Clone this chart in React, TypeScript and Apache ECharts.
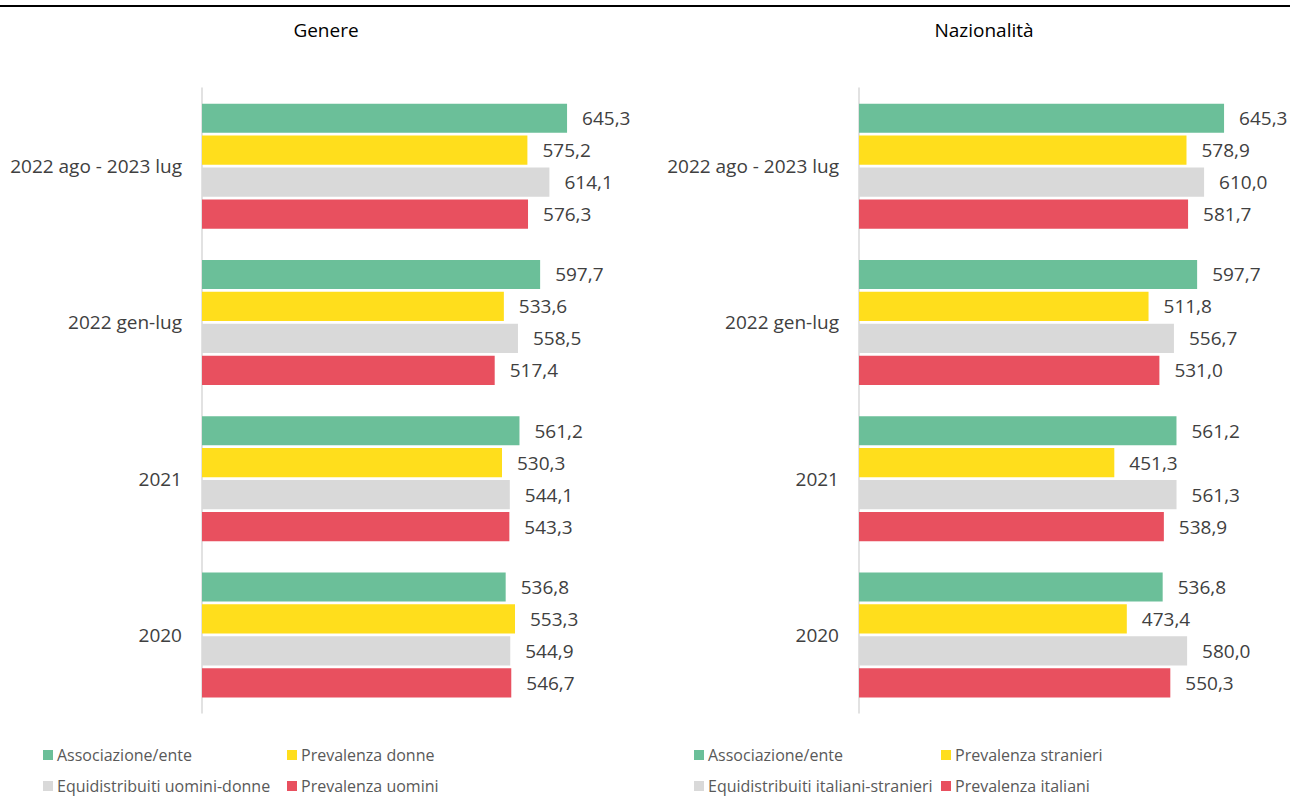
import React, { useEffect, useRef } from "react";
import * as echarts from "echarts";

const categories = ["2022 ago - 2023 lug", "2022 gen-lug", "2021", "2020"];

const genereNames = ["Associazione/ente", "Prevalenza donne", "Equidistribuiti uomini-donne", "Prevalenza uomini"];
const genereAssociazione = [645.3, 597.7, 561.2, 536.8];
const genereDonne = [575.2, 533.6, 530.3, 553.3];
const genereEqui = [614.1, 558.5, 544.1, 544.9];
const genereUomini = [576.3, 517.4, 543.3, 546.7];

const nazNames = ["Associazione/ente", "Prevalenza stranieri", "Equidistribuiti italiani-stranieri", "Prevalenza italiani"];
const nazAssociazione = [645.3, 597.7, 561.2, 536.8];
const nazStranieri = [578.9, 511.8, 451.3, 473.4];
const nazEqui = [610.0, 556.7, 561.3, 580.0];
const nazItaliani = [581.7, 531.0, 538.9, 550.3];

const colors = ["#6BBF99", "#FFDE1C", "#D9D9D9", "#E8505F"];
const FONT = "Open Sans";

export default function App() {
  const ref = useRef<HTMLDivElement>(null);
  useEffect(() => {
    if (!ref.current) return;
    const chart = echarts.init(ref.current, null, { renderer: "svg" });
    const fmt = (p: any) => Number(p.value).toFixed(1).replace(".", ",");
    const mkSeries = (names: string[], data: number[][], idx: number) =>
      names.map((n, i) => ({
        name: n,
        type: "bar",
        xAxisIndex: idx,
        yAxisIndex: idx,
        data: data[i],
        itemStyle: { color: colors[i] },
        barGap: "10%",
        barCategoryGap: "20%",
        label: {
          show: true,
          position: "right",
          distance: 15,
          formatter: fmt,
          color: "#404040",
          fontSize: 19,
          fontFamily: FONT,
        },
      }));
    const gridTop = 88;
    const gridH = 625;
    const legendItem = (name: string, left: number, top: number) => ({
      data: [name],
      left,
      top,
      padding: 0,
      orient: "horizontal",
      icon: "rect",
      itemWidth: 10,
      itemHeight: 10,
      itemGap: 0,
      selectedMode: false,
      textStyle: { color: "#595959", fontSize: 16, fontFamily: FONT, lineHeight: 22, padding: [0, 0, 0, -1] },
    });
    const yAx = (gi: number) => ({
      type: "category",
      gridIndex: gi,
      data: categories,
      inverse: true,
      axisLine: { show: true, lineStyle: { color: "#D9D9D9", width: 1.5 } },
      axisTick: { show: false },
      axisLabel: { color: "#404040", fontSize: 19, fontFamily: FONT, margin: 20 },
    });
    const xAx = (gi: number) => ({
      type: "value",
      gridIndex: gi,
      min: 0,
      max: 700,
      show: false,
      splitLine: { show: false },
    });
    const row1 = 744;
    const row2 = 775;
    chart.setOption({
      animation: false,
      backgroundColor: "#ffffff",
      grid: [
        { left: 202, top: gridTop, width: 396, height: gridH, containLabel: false },
        { left: 859, top: gridTop, width: 396, height: gridH, containLabel: false },
      ],
      xAxis: [xAx(0), xAx(1)],
      yAxis: [yAx(0), yAx(1)],
      legend: [
        legendItem(genereNames[0], 43, row1),
        legendItem(genereNames[1], 287, row1),
        legendItem(genereNames[2], 43, row2),
        legendItem(genereNames[3], 287, row2),
        legendItem(nazNames[0], 694, row1),
        legendItem(nazNames[1], 941, row1),
        legendItem(nazNames[2], 694, row2),
        legendItem(nazNames[3], 941, row2),
      ],
      graphic: [
        { type: "rect", left: 0, top: 5, shape: { width: 1290, height: 2 }, style: { fill: "#000000" } },
        {
          type: "text",
          x: 326,
          y: 30,
          style: { text: "Genere", fill: "#000000", fontSize: 19, fontFamily: FONT, align: "center", verticalAlign: "middle" },
        },
        {
          type: "text",
          x: 984,
          y: 30,
          style: { text: "Nazionalità", fill: "#000000", fontSize: 19, fontFamily: FONT, align: "center", verticalAlign: "middle" },
        },
      ],
      series: [
        ...mkSeries(genereNames, [genereAssociazione, genereDonne, genereEqui, genereUomini], 0),
        ...mkSeries(nazNames, [nazAssociazione, nazStranieri, nazEqui, nazItaliani], 1),
      ],
    });
    return () => chart.dispose();
  }, []);
  return <div ref={ref} style={{ position: "fixed", left: 0, top: 0, width: 1290, height: 807 }} />;
}
